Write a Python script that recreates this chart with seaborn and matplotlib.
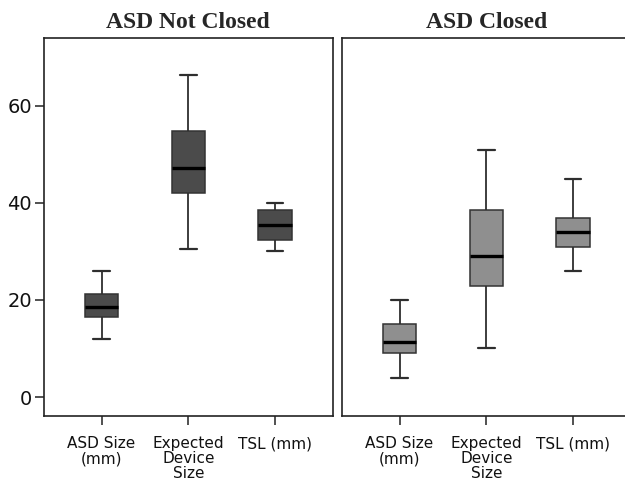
import matplotlib
matplotlib.use("Agg")
import matplotlib.pyplot as plt
import seaborn as sns
import pandas as pd

# five-number summaries: min, Q1, median, Q3, max
measures = ["ASD Size\n(mm)", "Expected\nDevice\nSize", "TSL (mm)"]
not_closed_asd = [12.0, 16.5, 18.5, 21.3, 26.0]
not_closed_device = [30.5, 42.0, 47.1, 54.7, 66.2]
not_closed_tsl = [30.0, 32.4, 35.4, 38.4, 40.0]
closed_asd = [4.0, 9.0, 11.4, 15.0, 20.0]
closed_device = [10.2, 22.9, 29.0, 38.4, 50.9]
closed_tsl = [26.0, 30.9, 34.0, 36.9, 44.9]

panel_titles = ["ASD Not Closed", "ASD Closed"]
panel_colors = ["#4b4b4b", "#8f8f8f"]


def to_long(values_by_measure):
    rows = []
    for name, vals in zip(measures, values_by_measure):
        for v in vals:
            rows.append({"measure": name, "value": v})
    return pd.DataFrame(rows)


not_closed = to_long([not_closed_asd, not_closed_device, not_closed_tsl])
closed = to_long([closed_asd, closed_device, closed_tsl])

sns.set_style("ticks")
plt.rcParams["font.family"] = ["DejaVu Sans"]

fig = plt.figure(figsize=(6.25, 4.8), dpi=100)
ax1 = fig.add_axes([0.0699, 0.1333, 0.4629, 0.7875])
ax2 = fig.add_axes([0.5467, 0.1333, 0.4629, 0.7875])

for ax, df, title, col in zip([ax1, ax2], [not_closed, closed], panel_titles, panel_colors):
    sns.boxplot(data=df, x="measure", y="value", ax=ax, color=col, saturation=1,
                width=0.385, whis=(0, 100), linecolor="#333333", linewidth=1.1,
                medianprops=dict(color="black", linewidth=2.4),
                whiskerprops=dict(color="#2e2e2e", linewidth=1.3),
                capprops=dict(color="#2e2e2e", linewidth=1.6))
    ax.set_xlim(-0.667, 2.667)
    ax.set_ylim(-3.9, 73.9)
    ax.set_xlabel("")
    ax.set_ylabel("")
    ax.set_title(title, family="Liberation Serif", fontweight="bold", fontsize=17, pad=7)
    for s in ax.spines.values():
        s.set_visible(True)
        s.set_color("#222222")
        s.set_linewidth(1.2)
    ax.tick_params(axis="both", length=6.5, width=1.1, color="#222222",
                   labelcolor="#111111")
    ax.tick_params(axis="x", labelsize=11, pad=8)
    ax.tick_params(axis="y", labelsize=14, pad=2)
    for lbl in ax.get_xticklabels():
        lbl.set_linespacing(1.0)

ax1.set_yticks([0, 20, 40, 60])
ax2.set_yticks([])
ax2.tick_params(axis="y", left=False, labelleft=False)

fig.savefig("out.png", dpi=100)
